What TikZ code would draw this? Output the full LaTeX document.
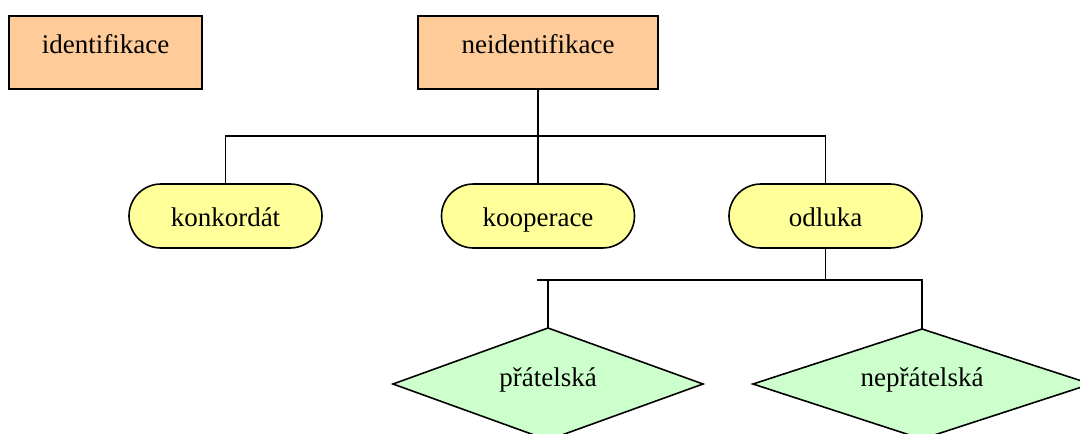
\documentclass[tikz,border=0pt]{standalone}
\usepackage{fontspec}
\setmainfont{Liberation Serif}[Ligatures=NoCommon]
\usetikzlibrary{shapes.geometric}
\definecolor{peach}{HTML}{FFCC99}
\definecolor{lyellow}{HTML}{FFFF99}
\definecolor{lgreen}{HTML}{CCFFCC}
\begin{document}
\begin{tikzpicture}[x=1pt,y=-1pt,
  every node/.style={font=\fontsize{27}{32}\selectfont, inner sep=0pt, outer sep=0pt},
  topbox/.style={draw, line width=1.6pt, fill=peach, rectangle, minimum height=73pt, text height=18pt, text depth=17pt},
  pill/.style={draw, line width=1.6pt, fill=lyellow, rectangle, rounded corners=32pt, minimum width=193pt, minimum height=64pt, text height=20pt, text depth=0pt},
  dia/.style={draw, line width=1.6pt, fill=lgreen, diamond, aspect=3, text height=12pt, text depth=6.6pt},
  conn/.style={line width=1.6pt}]
\useasboundingbox (0,0) rectangle (1080,434);
\clip (0,0) rectangle (1080,434);
\fill[white] (0,0) rectangle (1080,434);

\node[topbox, minimum width=193pt] (ident) at (105.5,52.5) {identifikace};
\node[topbox, minimum width=240pt] (neid) at (538,52.5) {neidentifikace};

\node[pill] (konk) at (225.5,216) {konkordát};
\node[pill] (koop) at (538,216) {kooperace};
\node[pill] (odl) at (825.5,216) {odluka};

\node[dia, minimum width=310pt, minimum height=112pt] (prat) at (548,384) {přátelská};
\node[dia, minimum width=338pt, minimum height=110pt] (neprat) at (922,384) {nepřátelská};

\coordinate (j1) at (538,136);
\coordinate (j2) at (825.5,280);
\coordinate (j2l) at (537,280);

\draw[conn] (neid.south) -- (koop.north);
\draw[conn] (konk.north) |- (j1) -| (odl.north);
\draw[conn] (odl.south) -- (j2);
\draw[conn] (j2l) -- (j2) -| (neprat.north);
\draw[conn] (prat.north) -- (prat.north |- j2);
\end{tikzpicture}
\end{document}
